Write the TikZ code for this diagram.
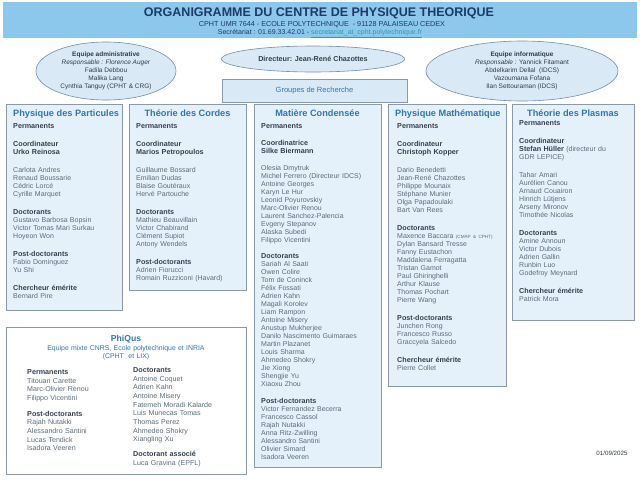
\documentclass[tikz,border=0pt]{standalone}
\usepackage{fontspec}
\setmainfont{Liberation Sans}
\usetikzlibrary{shapes.geometric}
\definecolor{band}{HTML}{8CC8EC}
\definecolor{navy}{HTML}{1F3A68}
\definecolor{linkcol}{HTML}{2A9FA6}
\definecolor{ellfill}{HTML}{DAE9F6}
\definecolor{ellline}{HTML}{6F8FAE}
\definecolor{elltext}{HTML}{333C48}
\definecolor{boxfill}{HTML}{E5F1FA}
\definecolor{boxline}{HTML}{8A99A8}
\definecolor{titleblue}{HTML}{2E75B6}
\definecolor{hdcol}{HTML}{34404F}
\definecolor{namecol}{HTML}{5B6B7D}
\newcommand\hd[1]{{\color{hdcol}\bfseries\fontsize{7.2}{8}\selectfont #1}}
\begin{document}
\begin{tikzpicture}[x=1pt,y=-1pt,
  box/.style={draw=boxline, fill=boxfill, line width=0.6pt, inner sep=0, anchor=north west},
  coltitle/.style={anchor=base, inner sep=0, text=titleblue, font=\fontsize{9.2}{10}\selectfont\bfseries},
  coltext/.style={anchor=base west, inner sep=0, text width=118pt, align=left, text=namecol, font=\fontsize{7}{8}\selectfont},
  ell/.style={ellipse, draw=ellline, fill=ellfill, line width=0.6pt, inner sep=0, text=elltext, align=center, font=\fontsize{6.5}{8}\selectfont},
  phtext/.style={anchor=base west, inner sep=0, text width=110pt, align=left, text=namecol, font=\fontsize{7.1}{8.65}\selectfont},
]
\useasboundingbox (0,0) rectangle (640,480);
\fill[white] (0,0) rectangle (640,480);

% header
\node[fill=band, inner sep=0, minimum width=634pt, minimum height=36pt, anchor=north west] (band) at (3,2) {};
\node[anchor=base, inner sep=0, text=navy, font=\fontsize{12.5}{14}\selectfont\bfseries] (title) at (319,16.5) {ORGANIGRAMME DU CENTRE DE PHYSIQUE THEORIQUE};
\node[anchor=base, inner sep=0, text=navy, font=\fontsize{7.2}{8}\selectfont] (sub) at (322,26.6) {CPHT UMR 7644 - ECOLE POLYTECHNIQUE \ - 91128 PALAISEAU CEDEX};
\node[anchor=base, inner sep=0, text=navy, font=\fontsize{7}{8}\selectfont] (secr) at (320,34.3) {Secrétariat : 01.69.33.42.01 - {\color{linkcol}\underline{secretariat\_at\_cpht.polytechnique.fr}}};

% ellipses
\node[ell, minimum width=140pt, minimum height=58pt] (admin) at (106,71)
  {\textbf{Equipe administrative}\\ \textit{Responsable : Florence Auger}\\ Fadila Debbou\\ Malika Lang\\ Cynthia Tanguy (CPHT \& CRG)};
\node[ell, minimum width=183pt, minimum height=26pt, font=\fontsize{7.2}{8}\selectfont\bfseries, text=hdcol] (dir) at (313,59)
  {Directeur: Jean-René Chazottes};
\node[ell, minimum width=192pt, minimum height=60pt] (info) at (522,71)
  {\textbf{Equipe informatique}\\ \textit{Responsable :} Yannick Fitamant\\ Abdelkarim Dellal \ (IDCS)\\ Vazoumana Fofana\\ Ilan Settouraman (IDCS)};
\node[draw=boxline, fill=ellfill, line width=0.6pt, inner sep=0, minimum width=185pt, minimum height=23pt, text=titleblue, font=\fontsize{7.5}{8}\selectfont] (groupes) at (314.5,90.5) {Groupes de Recherche};

% column boxes
\node[box, minimum width=116pt, minimum height=206pt] (c1) at (6,104) {};
\node[box, minimum width=117pt, minimum height=186pt] (c2) at (129,104) {};
\node[box, minimum width=127pt, minimum height=363pt] (c3) at (254,104) {};
\node[box, minimum width=118pt, minimum height=282pt] (c4) at (388,104) {};
\node[box, minimum width=122pt, minimum height=216pt] (c5) at (512,104) {};

% column 1
\node[coltitle, anchor=base west] (t1) at (13,116.3) {Physique des Particules};
\node[coltext] (x1) at (13,128.5) {\hd{Permanents}\\[10pt]
\hd{Coordinateur}\\ \hd{Urko Reinosa}\\[10pt]
Carlota Andres\\ Renaud Boussarie\\ Cédric Lorcé\\ Cyrille Marquet\\[10pt]
\hd{Doctorants}\\ Gustavo Barbosa Bopsin\\ Victor Tomas Mari Surkau\\ Hoyeon Won\\[10pt]
\hd{Post-doctorants}\\ Fabio Dominguez\\ Yu Shi\\[10pt]
\hd{Chercheur émérite}\\ Bernard Pire};

% column 2
\node[coltitle] (t2) at (187.5,116.3) {Théorie des Cordes};
\node[coltext] (x2) at (136,128.5) {\hd{Permanents}\\[10pt]
\hd{Coordinateur}\\ \hd{Marios Petropoulos}\\[10pt]
Guillaume Bossard\\ Emilian Dudas\\ Blaise Goutéraux\\ Hervé Partouche\\[10pt]
\hd{Doctorants}\\ Mathieu Beauvillain\\ Victor Chabirand\\ Clément Supiot\\ Antony Wendels\\[10pt]
\hd{Post-doctorants}\\ Adrien Fiorucci\\ Romain Ruzziconi (Havard)};

% column 3
\node[coltitle] (t3) at (317.5,116.3) {Matière Condensée};
\node[coltext] (x3) at (261,128.5) {\hd{Permanents}\\[9pt]
\hd{Coordinatrice}\\ \hd{Silke Biermann}\\[8.5pt]
Olesia Dmytruk\\ Michel Ferrero (Directeur IDCS)\\ Antoine Georges\\ Karyn Le Hur\\ Leonid Poyurovskiy\\ Marc-Olivier Renou\\ Laurent Sanchez-Palencia\\ Evgeny Stepanov\\ Alaska Subedi\\ Filippo Vicentini\\[8.5pt]
\hd{Doctorants}\\ Sariah Al Saati\\ Owen Colire\\ Tom de Coninck\\ Félix Fossati\\ Adrien Kahn\\ Magali Korolev\\ Liam Rampon\\ Antoine Misery\\ Anustup Mukherjee\\ Danilo Nascimento Guimaraes\\ Martin Plazanet\\ Louis Sharma\\ Ahmedeo Shokry\\ Jie Xiong\\ Shengjie Yu\\ Xiaoxu Zhou\\[8.5pt]
\hd{Post-doctorants}\\ Victor Fernandez Becerra\\ Francesco Cassol\\ Rajah Nutakki\\ Anna Ritz-Zwilling\\ Alessandro Santini\\ Olivier Simard\\ Isadora Veeren};

% column 4
\node[coltitle, anchor=base west] (t4) at (395,116.3) {Physique Mathématique};
\node[coltext] (x4) at (397,128.5) {\hd{Permanents}\\[10pt]
\hd{Coordinateur}\\ \hd{Christoph Kopper}\\[10pt]
Dario Benedetti\\ Jean-René Chazottes\\ Philippe Mounaix\\ Stéphane Munier\\ Olga Papadoulaki\\ Bart Van Rees\\[10pt]
\hd{Doctorants}\\ Maxence Baccara {\fontsize{4.6}{8}\selectfont (CMAP \& CPHT)}\\ Dylan Bansard Tresse\\ Fanny Eustachon\\ Maddalena Ferragatta\\ Tristan Gamot\\ Paul Ghiringhelli\\ Arthur Klause\\ Thomas Pochart\\ Pierre Wang\\[10pt]
\hd{Post-doctorants}\\ Junchen Rong\\ Francesco Russo\\ Graccyela Salcedo\\[10pt]
\hd{Chercheur émérite}\\ Pierre Collet};

% column 5
\node[coltitle] (t5) at (573,116.3) {Théorie des Plasmas};
\node[coltext, text width=112pt] (x5) at (519,125.5) {\hd{Permanents}\\[10pt]
\hd{Coordinateur}\\ \hd{Stefan Hüller} (directeur du\\ GDR LEPICE)\\[10pt]
Tahar Amari\\ Aurélien Canou\\ Arnaud Couairon\\ Hinrich Lütjens\\ Arseny Mironov\\ Timothée Nicolas\\[10pt]
\hd{Doctorants}\\ Amine Announ\\ Victor Dubois\\ Adrien Gallin\\ Runbin Luo\\ Godefroy Meynard\\[10pt]
\hd{Chercheur émérite}\\ Patrick Mora};

% PhiQus
\node[draw=boxline, fill=white, line width=0.8pt, inner sep=0, anchor=north west, minimum width=240pt, minimum height=147pt] (phiqus) at (6,327) {};
\node[coltitle, font=\fontsize{8.6}{10}\selectfont\bfseries] (pt) at (126,341) {PhiQus};
\node[anchor=base, inner sep=0, text width=230pt, align=center, text=titleblue, font=\fontsize{6.9}{8}\selectfont] (psub) at (126,350.5) {Equipe mixte CNRS, Ecole polytechnique et INRIA\\(CPHT \ et LIX)};
\node[phtext] (pl) at (27,374.5) {\hd{Permanents}\\ Titouan Carette\\ Marc-Olivier Renou\\ Filippo Vicentini\\[7pt]
\hd{Post-doctorants}\\ Rajah Nutakki\\ Alessandro Santini\\ Lucas Tendick\\ Isadora Veeren};
\node[phtext] (pr) at (133,372.5) {\hd{Doctorants}\\ Antoine Coquet\\ Adrien Kahn\\ Antoine Misery\\ Fatemeh Moradi Kalarde\\ Luis Munecas Tomas\\ Thomas Perez\\ Ahmedeo Shokry\\ Xiangling Xu\\[6.5pt]
\hd{Doctorant associé}\\ Luca Gravina (EPFL)};

% date
\node[anchor=base, inner sep=0, text=elltext, font=\fontsize{6.2}{8}\selectfont] (date) at (612,455.5) {01/09/2025};
\end{tikzpicture}
\end{document}
